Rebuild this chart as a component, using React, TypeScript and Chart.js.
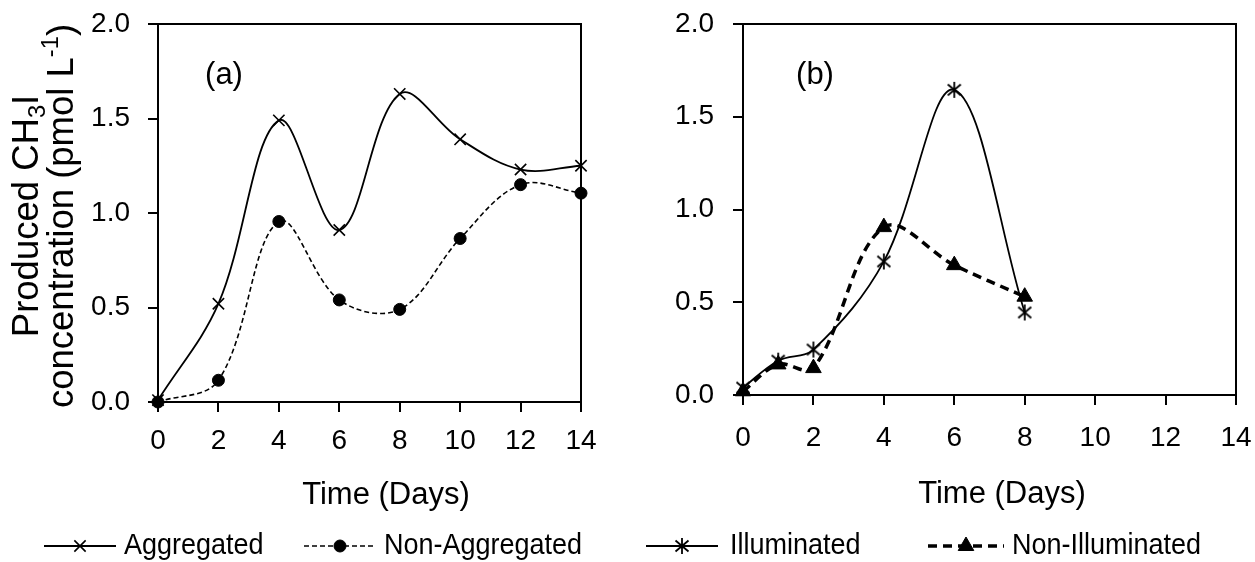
import React, { useEffect, useRef } from "react";
import { Chart, registerables } from "chart.js";
import { drawPoint } from "chart.js/helpers";

Chart.register(...registerables);

// ---------- data ----------
const daysA = [0, 2, 4, 6, 8, 10, 12, 14];
const aggregated = [0.01, 0.52, 1.49, 0.91, 1.63, 1.39, 1.23, 1.25];
const nonAggregated = [0.0, 0.115, 0.955, 0.54, 0.49, 0.865, 1.15, 1.105];

const daysB = [0, 1, 2, 4, 6, 8];
const illuminated = [0.04, 0.185, 0.245, 0.72, 1.645, 0.445];
const nonIlluminated = [0.02, 0.165, 0.145, 0.905, 0.7, 0.53];

const xTickStep = 2;
const xMin = 0;
const xMax = 14;
const yTickStep = 0.5;
const yMin = 0;
const yMax = 2;

const xTitle = "Time (Days)";
const panelLabels = ["(a)", "(b)"];
const seriesNames = ["Aggregated", "Non-Aggregated", "Illuminated", "Non-Illuminated"];

// ---------- styling ----------
const FONT = '"Liberation Sans", Arial, Helvetica, sans-serif';
const W = 1255;
const H = 562;
const SPLIT = 627;

function makeAsterisk(): HTMLCanvasElement {
  const c = document.createElement("canvas");
  c.width = 18;
  c.height = 18;
  const g = c.getContext("2d")!;
  g.strokeStyle = "#000";
  g.lineWidth = 1.8;
  g.beginPath();
  g.moveTo(9, 1);
  g.lineTo(9, 17);
  g.moveTo(2.5, 3.5);
  g.lineTo(15.5, 14.5);
  g.moveTo(15.5, 3.5);
  g.lineTo(2.5, 14.5);
  g.stroke();
  return c;
}

type Seg = { t: string; k?: "sub" | "sup" };

function drawRich(ctx: CanvasRenderingContext2D, segs: Seg[], cx: number, cy: number, size: number) {
  const widths = segs.map((s) => {
    const fs = s.k ? size * 0.65 : size;
    ctx.font = `${fs}px ${FONT}`;
    return ctx.measureText(s.t).width;
  });
  const total = widths.reduce((a, b) => a + b, 0);
  let x = cx - total / 2;
  ctx.textAlign = "left";
  ctx.textBaseline = "middle";
  segs.forEach((s, i) => {
    const fs = s.k ? size * 0.65 : size;
    ctx.font = `${fs}px ${FONT}`;
    const dy = s.k === "sub" ? size * 0.28 : s.k === "sup" ? -size * 0.32 : 0;
    ctx.fillText(s.t, x, cy + dy);
    x += widths[i];
  });
}

type LegendPos = { ds: number; x0: number; x1: number; textX: number };

type Deco = {
  panel: string;
  panelX: number;
  panelY: number;
  xTitleX: number;
  xTitleY: number;
  yTitle: boolean;
  legendY: number;
  legend: LegendPos[];
};

function makeDecoPlugin(d: Deco) {
  return {
    id: "deco",
    afterDraw(chart: any) {
      const ctx: CanvasRenderingContext2D = chart.ctx;
      const a = chart.chartArea;
      ctx.save();
      ctx.strokeStyle = "#000";
      ctx.lineWidth = 2;
      ctx.setLineDash([]);
      ctx.strokeRect(a.left, a.top, a.right - a.left, a.bottom - a.top);

      ctx.fillStyle = "#000";
      ctx.textAlign = "center";
      ctx.textBaseline = "middle";
      ctx.font = `31px ${FONT}`;
      ctx.fillText(d.panel, d.panelX, d.panelY);

      ctx.font = `31px ${FONT}`;
      ctx.fillText(xTitle, d.xTitleX, d.xTitleY);

      if (d.yTitle) {
        ctx.save();
        const cy = (a.top + a.bottom) / 2 + 3;
        ctx.translate(28, cy);
        ctx.rotate(-Math.PI / 2);
        drawRich(ctx, [{ t: "Produced CH" }, { t: "3", k: "sub" }, { t: "I" }], 0, 0, 36.5);
        ctx.restore();
        ctx.save();
        ctx.translate(63, cy);
        ctx.rotate(-Math.PI / 2);
        drawRich(ctx, [{ t: "concentration (pmol L" }, { t: "-1", k: "sup" }, { t: ")" }], 0, 0, 36.5);
        ctx.restore();
      }

      d.legend.forEach((it) => {
        const ds = chart.data.datasets[it.ds];
        ctx.save();
        ctx.strokeStyle = "#000";
        ctx.fillStyle = "#000";
        ctx.lineWidth = ds.borderWidth;
        ctx.setLineDash(ds.borderDash || []);
        ctx.beginPath();
        ctx.moveTo(it.x0, d.legendY);
        ctx.lineTo(it.x1, d.legendY);
        ctx.stroke();
        ctx.setLineDash([]);
        ctx.lineWidth = ds.pointBorderWidth ?? 1.5;
        drawPoint(
          ctx,
          { pointStyle: ds.pointStyle, radius: ds.pointRadius, borderWidth: ds.pointBorderWidth ?? 1.5, rotation: 0 } as any,
          (it.x0 + it.x1) / 2,
          d.legendY
        );
        ctx.restore();
        ctx.save();
        ctx.fillStyle = "#000";
        ctx.textAlign = "left";
        ctx.textBaseline = "middle";
        ctx.font = `30px ${FONT}`;
        ctx.translate(it.textX, d.legendY);
        ctx.scale(0.9, 1);
        ctx.fillText(ds.label, 0, 0);
        ctx.restore();
      });
      ctx.restore();
    },
  };
}

function scales(yWidth: number, xHeight: number, xPad: number, yPad: number) {
  const tickFont = { family: FONT, size: 28 };
  return {
    x: {
      type: "linear" as const,
      min: xMin,
      max: xMax,
      afterFit: (s: any) => {
        s.height = xHeight;
        s.paddingLeft = 0;
        s.paddingRight = 0;
      },
      ticks: { stepSize: xTickStep, autoSkip: false, maxRotation: 0, color: "#000", font: tickFont, padding: xPad },
      grid: { display: true, drawOnChartArea: false, drawTicks: true, tickLength: 10, color: "#000", lineWidth: 2 },
      border: { display: false },
    },
    y: {
      type: "linear" as const,
      min: yMin,
      max: yMax,
      afterFit: (s: any) => {
        s.width = yWidth;
        s.paddingTop = 0;
        s.paddingBottom = 0;
      },
      ticks: {
        stepSize: yTickStep,
        color: "#000",
        font: tickFont,
        padding: yPad,
        callback: (v: any) => Number(v).toFixed(1),
      },
      grid: { display: true, drawOnChartArea: false, drawTicks: true, tickLength: 10, color: "#000", lineWidth: 2 },
      border: { display: false },
    },
  };
}

function toXY(xs: number[], ys: number[]) {
  return xs.map((x, i) => ({ x, y: ys[i] }));
}

export default function App() {
  const refA = useRef<HTMLCanvasElement>(null);
  const refB = useRef<HTMLCanvasElement>(null);

  useEffect(() => {
    const asterisk = makeAsterisk();

    const chartA = new Chart(refA.current!, {
      type: "line",
      data: {
        datasets: [
          {
            label: seriesNames[0],
            data: toXY(daysA, aggregated),
            borderColor: "#000",
            backgroundColor: "#000",
            borderWidth: 1.8,
            tension: 0.36,
            pointStyle: "crossRot",
            pointRadius: 8,
            pointBorderWidth: 1.6,
            pointBorderColor: "#000",
            clip: 12,
          } as any,
          {
            label: seriesNames[1],
            data: toXY(daysA, nonAggregated),
            borderColor: "#000",
            backgroundColor: "#000",
            borderWidth: 1.6,
            borderDash: [5, 3],
            tension: 0.36,
            pointStyle: "circle",
            pointRadius: 6,
            pointBorderWidth: 1,
            pointBackgroundColor: "#000",
            pointBorderColor: "#000",
            clip: 12,
          } as any,
        ],
      },
      options: {
        animation: false,
        responsive: false,
        events: [],
        layout: { padding: { left: 0, top: 24, right: SPLIT - 581, bottom: 0 } },
        scales: scales(158, H - 402, 12, 18) as any,
        plugins: { legend: { display: false }, tooltip: { enabled: false } },
      },
      plugins: [
        makeDecoPlugin({
          panel: panelLabels[0],
          panelX: 224,
          panelY: 75,
          xTitleX: 386,
          xTitleY: 495,
          yTitle: true,
          legendY: 546,
          legend: [
            { ds: 0, x0: 44, x1: 116, textX: 124 },
            { ds: 1, x0: 304, x1: 376, textX: 384 },
          ],
        }),
      ],
    });

    const chartB = new Chart(refB.current!, {
      type: "line",
      data: {
        datasets: [
          {
            label: seriesNames[2],
            data: toXY(daysB, illuminated),
            borderColor: "#000",
            backgroundColor: "#000",
            borderWidth: 1.8,
            tension: 0.36,
            pointStyle: asterisk,
            pointRadius: 8,
            pointBorderWidth: 1.6,
            order: 1,
            clip: 12,
          } as any,
          {
            label: seriesNames[3],
            data: toXY(daysB, nonIlluminated),
            borderColor: "#000",
            backgroundColor: "#000",
            borderWidth: 3.5,
            borderDash: [9, 6],
            tension: 0.36,
            pointStyle: "triangle",
            pointRadius: 9,
            pointBorderWidth: 1,
            pointBackgroundColor: "#000",
            pointBorderColor: "#000",
            order: 0,
            clip: 12,
          } as any,
        ],
      },
      options: {
        animation: false,
        responsive: false,
        events: [],
        layout: { padding: { left: 0, top: 24, right: W - 1236, bottom: 0 } },
        scales: scales(743 - SPLIT, H - 395, 16, 19) as any,
        plugins: { legend: { display: false }, tooltip: { enabled: false } },
      },
      plugins: [
        makeDecoPlugin({
          panel: panelLabels[1],
          panelX: 815 - SPLIT,
          panelY: 75,
          xTitleX: 1002 - SPLIT,
          xTitleY: 494,
          yTitle: false,
          legendY: 546,
          legend: [
            { ds: 0, x0: 646 - SPLIT, x1: 718 - SPLIT, textX: 730 - SPLIT },
            { ds: 1, x0: 928 - SPLIT, x1: 1004 - SPLIT, textX: 1012 - SPLIT },
          ],
        }),
      ],
    });

    return () => {
      chartA.destroy();
      chartB.destroy();
    };
  }, []);

  return (
    <div style={{ position: "absolute", left: 0, top: 0, width: W, height: H, background: "#fff", overflow: "hidden" }}>
      <canvas ref={refA} width={SPLIT} height={H} style={{ position: "absolute", left: 0, top: 0, width: SPLIT, height: H }} />
      <canvas ref={refB} width={W - SPLIT} height={H} style={{ position: "absolute", left: SPLIT, top: 0, width: W - SPLIT, height: H }} />
    </div>
  );
}
